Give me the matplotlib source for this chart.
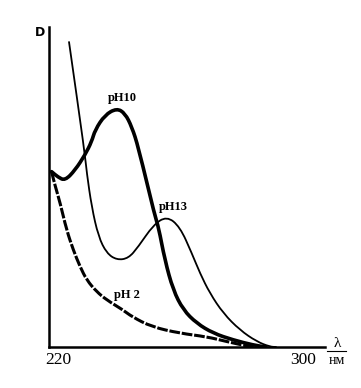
import matplotlib.pyplot as plt
from matplotlib.path import Path
from matplotlib.patches import PathPatch

# absorption spectra (wavelength nm, D in arbitrary units 0..100)
ph13_x = [223.6, 228.6, 229.4, 231.0, 233.2, 235.9, 239.2, 243.0, 246.2, 251.1, 255.5,
          259.8, 263.7, 266.4, 269.6, 274.0, 279.4, 284.9, 289.2, 291.2]
ph13_y = [95.3, 61.6, 54.4, 43.8, 34.5, 29.3, 27.2, 27.7, 31.3, 38.1, 40.9,
          37.6, 29.3, 23.0, 16.8, 10.5, 5.3, 1.7, 0.1, 0.0]

ph10_x = [217.9, 220.0, 222.3, 225.6, 228.8, 231.0, 232.1, 235.3, 239.2, 241.9, 244.1,
          246.2, 251.7, 252.8, 254.9, 257.6, 260.9, 265.3, 270.7, 277.2, 283.8, 287.9]
ph10_y = [54.8, 53.1, 52.0, 55.3, 60.0, 64.2, 67.8, 72.5, 74.6, 73.0, 68.8,
          62.6, 40.7, 37.6, 27.2, 17.8, 11.6, 7.4, 4.3, 2.2, 0.6, 0.0]

ph2_x = [217.9, 219.0, 220.7, 222.8, 225.0, 227.2, 229.4, 232.6, 235.9, 241.2, 244.1,
         250.6, 259.8, 268.6, 275.1, 282.7, 284.7]
ph2_y = [54.8, 50.6, 45.0, 36.6, 30.3, 25.1, 20.9, 17.3, 14.7, 11.6, 9.5,
         6.3, 4.3, 3.2, 1.7, 0.1, 0.0]

serif = 'Liberation Serif'


def smooth_path(xs, ys):
    # quadratic bezier through the midpoints, read points act as control points
    pts = list(zip(xs, ys))
    verts = [pts[0]]
    codes = [Path.MOVETO]
    mid = lambda a, b: ((a[0] + b[0]) / 2, (a[1] + b[1]) / 2)
    verts.append(mid(pts[0], pts[1]))
    codes.append(Path.LINETO)
    for i in range(1, len(pts) - 1):
        verts += [pts[i], mid(pts[i], pts[i + 1])]
        codes += [Path.CURVE3, Path.CURVE3]
    verts.append(pts[-1])
    codes.append(Path.LINETO)
    return Path(verts, codes)


fig = plt.figure(figsize=(3.61, 3.88), dpi=100)
ax = fig.add_axes([49 / 361, 1 - 347 / 388, 276 / 361, 320 / 388])

ax.add_patch(PathPatch(smooth_path(ph13_x, ph13_y), fill=False, ec='black', lw=1.3, capstyle='round'))
ax.add_patch(PathPatch(smooth_path(ph10_x, ph10_y), fill=False, ec='black', lw=2.6, capstyle='round'))
ax.add_patch(PathPatch(smooth_path(ph2_x, ph2_y), fill=False, ec='black', lw=2.2, ls=(0, (3.5, 0.6))))

ax.set_xlim(217.06, 307.2)
ax.set_ylim(0, 100)
for s in ['top', 'right']:
    ax.spines[s].set_visible(False)
for s in ['left', 'bottom']:
    ax.spines[s].set_linewidth(1.8)
ax.set_xticks([])
ax.set_yticks([])

# curve labels
ax.text(240.9, 77.8, 'pH10', family=serif, weight='bold', fontsize=9, ha='center', va='center')
ax.text(257.6, 43.75, 'pH13', family=serif, weight='bold', fontsize=9, ha='center', va='center')
ax.text(242.5, 16.25, 'pH 2', family=serif, weight='bold', fontsize=9, ha='center', va='center')

# axis annotations
ax.text(-0.033, 0.984, 'D', transform=ax.transAxes, weight='bold', fontsize=9, ha='center', va='center')
ax.text(220, -4.1, '220', family=serif, fontsize=12.5, ha='center', va='center', clip_on=False)
ax.text(300, -4.1, '300', family=serif, fontsize=12.5, ha='center', va='center', clip_on=False)
ax.text(311.2, 1.0, 'λ', family=serif, fontsize=11, ha='center', va='center', clip_on=False)
ax.plot([307.8, 314.2], [-1.3, -1.3], color='black', lw=0.8, clip_on=False)
ax.text(311.0, -4.1, 'нм', family=serif, fontsize=10, ha='center', va='center', clip_on=False)

fig.savefig('out.png', dpi=100)
